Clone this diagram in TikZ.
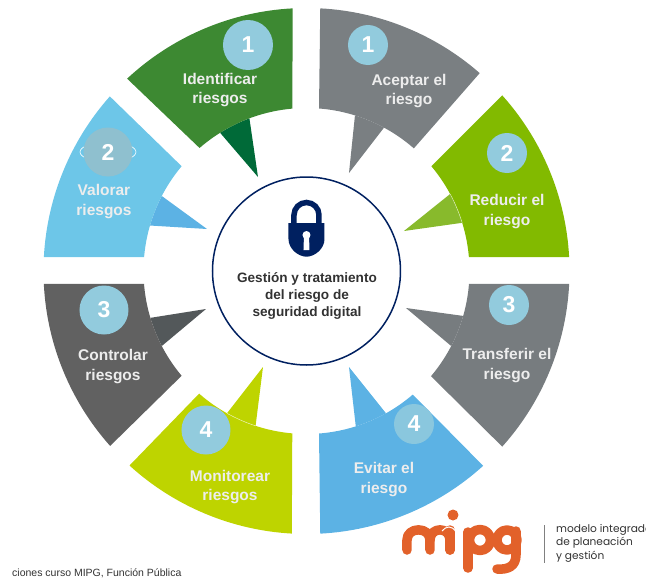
\documentclass[tikz,border=0pt]{standalone}
\usepackage{fontspec}
\setmainfont{Liberation Sans}
\newfontfamily\logofont{Poppins}
\definecolor{cGreen}{RGB}{61,137,50}
\definecolor{cGreenP}{RGB}{0,106,56}
\definecolor{cGrayA}{RGB}{122,127,130}
\definecolor{cLime}{RGB}{130,186,0}
\definecolor{cLimeP}{RGB}{136,186,44}
\definecolor{cGrayB}{RGB}{119,124,127}
\definecolor{cBlue}{RGB}{92,178,228}
\definecolor{cYellow}{RGB}{190,212,0}
\definecolor{cDark}{RGB}{97,97,97}
\definecolor{cDarkP}{RGB}{83,88,90}
\definecolor{cSky}{RGB}{109,198,232}
\definecolor{cBadge}{RGB}{146,203,221}
\definecolor{cNavy}{RGB}{0,32,96}
\definecolor{cOrange}{RGB}{226,97,42}
\definecolor{cInk}{RGB}{50,50,50}
\tikzset{
  petaltext/.style={text=white!93!black,font=\fontsize{15.5}{19.5}\selectfont\bfseries,align=center,inner sep=0pt},
  badge/.style={circle,fill=cBadge,text=white,font=\fontsize{23}{23}\selectfont\bfseries,inner sep=0pt},
  logostroke/.style={draw=cOrange,line width=9.5pt,line cap=round,line join=round},
  logotext/.style={text=cInk,font=\logofont\fontsize{10.6}{13}\selectfont,anchor=west,inner sep=0pt},
  seam/.style={draw=white,line width=.5pt,opacity=.65},
}
% #1 body #2 pointer #3,#4 outer arc angles #5 inner start #6 pointer start #7 tip #8 pointer end #9 inner end
\newcommand\petal[9]{%
  \fill[#2] (#7) -- (#8:163) arc[start angle=#8,end angle=#6,radius=163] -- cycle;
  \fill[#1] (#3:263) arc[start angle=#3,end angle=#4,radius=263] -- (#5:163)
     arc[start angle=#5,end angle=#9,radius=163] -- cycle;
}
\begin{document}
\begin{tikzpicture}[x=1pt,y=1pt]
\useasboundingbox (-306.5,-308) rectangle (339.5,271);
\petal{cGreen}{cGreenP}{93}{133}{131}{122}{-48.5,94}{110.5}{95}
\petal{cGrayA}{cGrayA}{87}{48.8}{48.8}{61.6}{42.5,98}{72.7}{85.6}
\petal{cLime}{cLimeP}{41.9}{3}{4.9}{17.2}{97.5,40}{28.2}{40}
\petal{cGrayB}{cGrayB}{-2.8}{-41.9}{-40.2}{-27.4}{99.5,-37}{-16}{-4.5}
\petal{cBlue}{cBlue}{-87}{-47.8}{-49.3}{-60.8}{42.5,-96}{-72.4}{-85.6}
\petal{cYellow}{cYellow}{-93.2}{-132.3}{-131.2}{-119.2}{-43.5,-96}{-108.2}{-95}
\petal{cDark}{cDarkP}{-177.2}{-138.3}{-140}{-152.6}{-100.5,-38}{-163.3}{-175.5}
\petal{cSky}{cBlue}{138.4}{177}{175.1}{163.8}{-99.5,42}{152.6}{140}
\draw[seam] (17.2:163) arc[start angle=17.2,end angle=28.2,radius=163];
\draw[seam] (-119.2:163) arc[start angle=-119.2,end angle=-108.2,radius=163];
% centre
\node[circle,draw=cNavy,line width=1.5pt,minimum size=188pt,inner sep=0pt] (hub) at (0,0) {};
% lock
\draw[cNavy,line width=5.5pt] (-12.5,48) -- (-12.5,56) arc[start angle=180,end angle=0,radius=12.5] -- (12.5,48);
\fill[cNavy] (-18,48) -- (18,48) -- (18,32) .. controls (18,22) and (8,14.3) .. (0,14.3) .. controls (-8,14.3) and (-18,22) .. (-18,32) -- cycle;
\fill[white] (0,36) circle[radius=4];
\fill[white] (-2.5,36) -- (2.5,36) -- (3,21) -- (-3,21) -- cycle;
\begin{scope}[shift={(-306.5,271)},y=-1pt]
\node[text=cInk,font=\fontsize{13.6}{17}\selectfont\bfseries,align=center,inner sep=0pt] (hubtext) at (307,296) {Gesti\'on y tratamiento\\del riesgo de\\seguridad digital};
% white marks behind badge
\draw[white,line width=.6pt] (108,152) ellipse[x radius=28,y radius=10];
\node[badge,minimum size=50pt] (b1) at (248,45) {1};
\node[badge,minimum size=40pt] (b2) at (368,45) {1};
\node[badge,minimum size=40pt] (b3) at (507,153) {2};
\node[badge,minimum size=40pt] (b4) at (509,305) {3};
\node[badge,minimum size=40pt,fill=cBadge!85!cBlue] (b5) at (414,424) {4};
\node[badge,minimum size=49pt] (b6) at (206,430) {4};
\node[badge,minimum size=49pt] (b7) at (104,310) {3};
\node[badge,minimum size=49pt,fill=cBadge!85!gray] (b8) at (108,152) {2};
\node[petaltext] (t1) at (220,90) {Identificar\\riesgos};
\node[petaltext] (t2) at (409,91) {Aceptar el\\riesgo};
\node[petaltext] (t3) at (507,211.5) {Reducir el\\riesgo};
\node[petaltext] (t4) at (507,365.5) {Transferir el\\riesgo};
\node[petaltext] (t5) at (384,479.5) {Evitar el\\riesgo};
\node[petaltext] (t6) at (230,487) {Monitorear\\riesgos};
\node[petaltext] (t7) at (113,366.5) {Controlar\\riesgos};
\node[petaltext] (t8) at (104,201.5) {Valorar\\riesgos};
\node[text=cInk,font=\fontsize{10.5}{12}\selectfont,anchor=west,inner sep=0pt] (src) at (12,573) {ciones curso MIPG, Funci\'on P\'ublica};
% logo
\draw[logostroke] (407,550) -- (407,540) .. controls (407,526.5) and (430,526.5) .. (430,540) -- (430,550);
\draw[logostroke] (430,540) .. controls (430,526.5) and (450,526.5) .. (450,540) -- (450,550);
\draw[logostroke] (450,550) -- (450,530);
\fill[cOrange] (453,515) circle[radius=5.5];
\draw[white,line width=1pt] (442,531) .. controls (446,526) and (452,525) .. (456,532);
\draw[logostroke] (468,532) -- (468,568);
\draw[logostroke] (480,540) circle[radius=10.5];
\draw[logostroke] (507,540) circle[radius=10];
\draw[logostroke] (516,531) -- (516,555) .. controls (516,566) and (508,570) .. (497,569);
\draw[gray,line width=.9pt] (544,525) -- (544,563);
\node[logotext] (l1) at (556,530) {modelo integrado};
\node[logotext] (l2) at (556,543) {de planeaci\'on};
\node[logotext] (l3) at (556,557) {y gesti\'on};
\end{scope}
\end{tikzpicture}
\end{document}
